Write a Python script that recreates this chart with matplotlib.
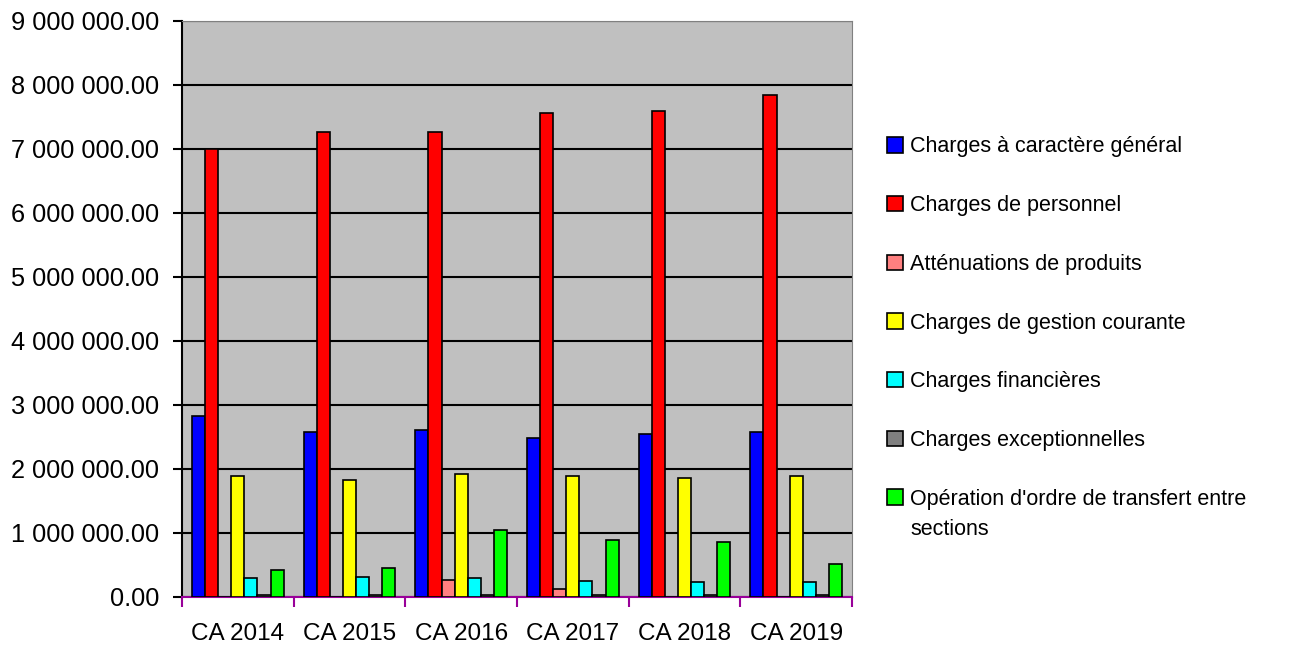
import numpy as np
import matplotlib.pyplot as plt
from matplotlib.ticker import FuncFormatter

plt.rcParams['font.family'] = ['Liberation Sans', 'DejaVu Sans']

categories = ['CA 2014', 'CA 2015', 'CA 2016', 'CA 2017', 'CA 2018', 'CA 2019']
series_names = ['Charges à caractère général', 'Charges de personnel',
                'Atténuations de produits', 'Charges de gestion courante',
                'Charges financières', 'Charges exceptionnelles',
                "Opération d'ordre de transfert entre"]
label_tail = 'sections'
colors = ['#0000FF', '#FF0000', '#FF8080', '#FFFF00', '#00FFFF', '#808080', '#00FF00']

generaux = [2830000, 2580000, 2610000, 2480000, 2550000, 2580000]
personnel = [7000000, 7270000, 7270000, 7560000, 7590000, 7840000]
attenuations = [0, 0, 260000, 130000, 0, 0]
gestion = [1890000, 1830000, 1920000, 1890000, 1860000, 1890000]
financieres = [290000, 320000, 290000, 255000, 235000, 235000]
exceptionnelles = [35000, 35000, 35000, 35000, 35000, 35000]
transfert = [420000, 450000, 1040000, 885000, 855000, 515000]

values = [generaux, personnel, attenuations, gestion, financieres, exceptionnelles, transfert]

fig = plt.figure(figsize=(12.93, 6.45), dpi=100)
ax = fig.add_axes([182/1293, 48/645, 670/1293, 576/645])
ax.set_facecolor('#C0C0C0')

x = np.arange(len(categories))
n = len(values)
gw = 0.82
w = gw / n
for i, vals in enumerate(values):
    ax.bar(x - gw / 2 + w * (i + 0.5), vals, w, color=colors[i],
           edgecolor='black', linewidth=1.2, label=series_names[i], zorder=3)

ax.set_xlim(-0.5, len(categories) - 0.5)
ax.set_ylim(0, 9000000)
ax.set_yticks(np.arange(0, 9000001, 1000000))
ax.yaxis.set_major_formatter(FuncFormatter(lambda v, p: '{:,.2f}'.format(v).replace(',', ' ')))
ax.yaxis.grid(True, color='black', linewidth=1.5, zorder=1)
ax.set_axisbelow(True)

ax.set_xticks(x)
ax.set_xticklabels(categories)
ax.tick_params(axis='x', length=0, labelsize=17.5, pad=19)
ax.set_xticks(np.arange(-0.5, len(categories)), minor=True)
ax.tick_params(axis='x', which='minor', length=7, color='#990099', width=1.5)
ax.tick_params(axis='y', labelsize=18.3, length=6.5, width=1.5, pad=10)

for s in ['top', 'right']:
    ax.spines[s].set_color('#808080')
ax.spines['left'].set_color('black')
ax.spines['left'].set_linewidth(1.5)
ax.spines['bottom'].set_color('#990099')
ax.spines['bottom'].set_linewidth(1.5)

leg = fig.legend(loc='center left', bbox_to_anchor=(868/1293, 1 - 323/645), frameon=False,
                 fontsize=15.5, handlelength=0.72, handleheight=0.72,
                 handletextpad=0.35, labelspacing=1.75)
for h in leg.legend_handles:
    h.set_edgecolor('black')

# second line of the last legend label
fig.canvas.draw()
bb = leg.get_texts()[-1].get_window_extent()
fig.text(bb.x0 / 1293, (bb.y0 - 30 + bb.height / 2) / 645, label_tail,
         fontsize=15.5, va='center', ha='left')

fig.savefig('out.png', dpi=100)
